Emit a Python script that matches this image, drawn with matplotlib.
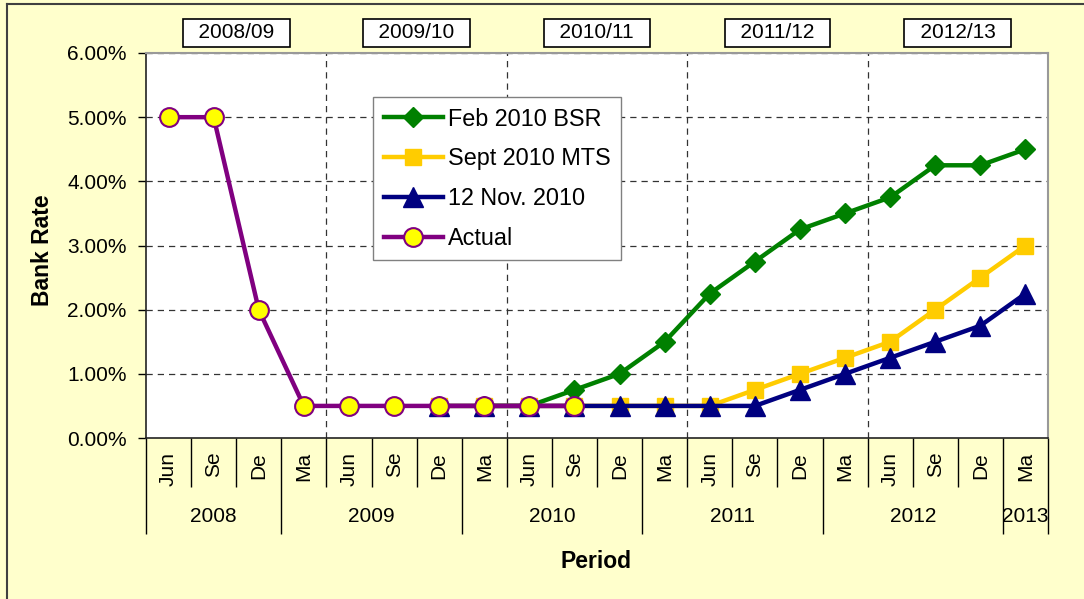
import numpy as np
import matplotlib.pyplot as plt
from matplotlib.lines import Line2D
from matplotlib.transforms import blended_transform_factory

plt.rcParams['font.family'] = ['Liberation Sans', 'DejaVu Sans']

# quarters on the category axis
months = ['Jun', 'Se', 'De',
          'Ma', 'Jun', 'Se', 'De',
          'Ma', 'Jun', 'Se', 'De',
          'Ma', 'Jun', 'Se', 'De',
          'Ma', 'Jun', 'Se', 'De',
          'Ma']
year_labels = ['2008', '2009', '2010', '2011', '2012', '2013']
year_counts = [3, 4, 4, 4, 4, 1]
fiscal_years = ['2008/09', '2009/10', '2010/11', '2011/12', '2012/13']

# bank rate (%) per quarter, each series starts at a given quarter index
actual = [5.0, 5.0, 2.0, 0.5, 0.5, 0.5, 0.5, 0.5, 0.5, 0.5]
actual_start = 0
feb_bsr = [0.5, 0.5, 0.75, 1.0, 1.5, 2.25, 2.75, 3.25, 3.5, 3.75, 4.25, 4.25, 4.5]
feb_bsr_start = 7
sept_mts = [0.5, 0.5, 0.5, 0.5, 0.5, 0.5, 0.5, 0.75, 1.0, 1.25, 1.5, 2.0, 2.5, 3.0]
sept_mts_start = 6
nov_2010 = [0.5, 0.5, 0.5, 0.5, 0.5, 0.5, 0.5, 0.5, 0.75, 1.0, 1.25, 1.5, 1.75, 2.25]
nov_2010_start = 6

yticks = [0, 1, 2, 3, 4, 5, 6]

n = len(months)
fig = plt.figure(figsize=(10.84, 5.99), dpi=100, facecolor='#FFFFCC')
ax = fig.add_axes([146/1084, 1-438/599, 902/1084, 385/599])
ax.set_facecolor('white')

def xs(start, vals):
    return np.arange(start, start + len(vals))

lw = 3.2
ax.plot(xs(feb_bsr_start, feb_bsr), feb_bsr, color='#008000', lw=lw,
        marker='D', ms=10, label='Feb 2010 BSR', zorder=3)
ax.plot(xs(sept_mts_start, sept_mts), sept_mts, color='#FFCC00', lw=lw,
        marker='s', ms=11.5, label='Sept 2010 MTS', zorder=4)
ax.plot(xs(nov_2010_start, nov_2010), nov_2010, color='#000080', lw=lw,
        marker='^', ms=14, label='12 Nov. 2010', zorder=5)
ax.plot(xs(actual_start, actual), actual, color='#800080', lw=lw,
        marker='o', ms=13.5, mfc='#FFFF00', mec='#800080', mew=1.5,
        label='Actual', zorder=6)

ax.set_xlim(-0.5, n - 0.5)
ax.set_ylim(0, 6)
ax.set_yticks(yticks)
ax.set_yticklabels([f'{v:.2f}%' for v in yticks], fontsize=15)
ax.tick_params(axis='y', direction='out', length=6, width=1, pad=8, colors='black')

# horizontal gridlines
for v in yticks[1:]:
    ax.axhline(v, color='#333333', lw=0.9, ls=(0, (5, 4)), zorder=1)

# fiscal-year boundaries (between Ma and Jun)
fy_bounds = [i - 0.5 for i, m in enumerate(months) if m == 'Jun' and i > 0]
for b in fy_bounds:
    ax.axvline(b, color='#333333', lw=0.9, ls=(0, (5, 4)), zorder=1)

# two-level category axis
bounds = np.arange(n + 1) - 0.5
year_edges = np.concatenate([[0], np.cumsum(year_counts)]) - 0.5
ax.set_xticks(year_edges)
ax.set_xticklabels([''] * len(year_edges))
ax.set_xticks(bounds, minor=True)
ax.tick_params(axis='x', which='major', direction='out', length=69, width=1, colors='black')
ax.tick_params(axis='x', which='minor', direction='out', length=35, width=1, colors='black')

trans = blended_transform_factory(ax.transData, ax.transAxes)
for i, m in enumerate(months):
    ax.text(i, -0.036, m, rotation=90, ha='center', va='top', fontsize=15, transform=trans)
for k, yl in enumerate(year_labels):
    ax.text((year_edges[k] + year_edges[k + 1]) / 2, -0.205, yl, ha='center', va='center',
            fontsize=15, transform=trans)

# fiscal year boxes
fy_edges = [-0.5] + fy_bounds + [n - 0.5]
for k, fy in enumerate(fiscal_years):
    ax.text((fy_edges[k] + fy_edges[k + 1]) / 2, 1.052, '  ' + fy + '  ', ha='center', va='center',
            fontsize=15, transform=trans,
            bbox=dict(boxstyle='square,pad=0.2', fc='white', ec='black', lw=1.2))

for s in ['left', 'bottom']:
    ax.spines[s].set_color('#222222')
    ax.spines[s].set_linewidth(1.2)
for s in ['top', 'right']:
    ax.spines[s].set_color('#999999')
    ax.spines[s].set_linewidth(1.5)

fig.text(42.5/1084, 1-250/599, 'Bank Rate', rotation=90, ha='center', va='center',
         fontsize=16.5, fontweight='bold')
fig.text(596/1084, 1-561/599, 'Period', ha='center', va='center',
         fontsize=16.5, fontweight='bold')

leg = ax.legend(loc='upper left', bbox_to_anchor=((373-146)/902, (438-97)/385),
                borderaxespad=0, fontsize=16.8, numpoints=1, handlelength=2.55,
                handletextpad=0.22, labelspacing=0.72, fancybox=False,
                edgecolor='#808080', framealpha=1, borderpad=0.45)
leg.get_frame().set_linewidth(1)

# outer chart border (left and top visible)
fig.add_artist(Line2D([7/1084, 7/1084], [0, 1-4/599], color='#404040', lw=1.5))
fig.add_artist(Line2D([7/1084, 1], [1-4/599, 1-4/599], color='#404040', lw=1.5))

fig.savefig('out.png', dpi=100, facecolor=fig.get_facecolor())
